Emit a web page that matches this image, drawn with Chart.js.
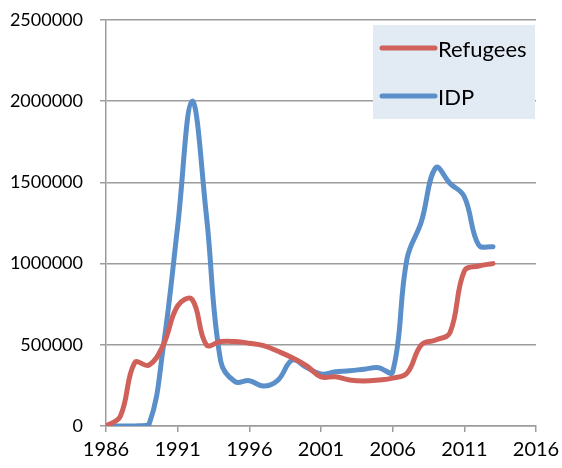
<!DOCTYPE html>
<html>
<head>
<meta charset="utf-8">
<script src="https://cdn.jsdelivr.net/npm/chart.js@4/dist/chart.umd.min.js"></script>
<style>
  html, body { margin: 0; padding: 0; background: #ffffff; }
  #wrap { width: 562px; height: 468px; position: relative; }
</style>
</head>
<body>
<div id="wrap"><canvas id="c" width="562" height="468"></canvas></div>
<script>
// Displaced population, 1986–2013
const years = [1986, 1987, 1988, 1989, 1990, 1991, 1992, 1993, 1994, 1995,
               1996, 1997, 1998, 1999, 2000, 2001, 2002, 2003, 2004, 2005,
               2006, 2007, 2008, 2009, 2010, 2011, 2012, 2013];

const refugees = [0, 60000, 390000, 375000, 500000, 740000, 780000, 500000, 520000, 520000,
                  510000, 495000, 460000, 420000, 370000, 303000, 303000, 283000, 277000, 283000,
                  295000, 325000, 500000, 530000, 575000, 955000, 985000, 1000000];

const idp = [0, 0, 0, 10000, 490000, 1230000, 2000000, 1300000, 400000, 273000,
             279000, 246000, 283000, 406000, 360000, 320000, 334000, 340000, 350000, 359000,
             334000, 1030000, 1258000, 1590000, 1494000, 1412000, 1114000, 1104000];

const seriesNames = ["Refugees", "IDP"];
const seriesColors = ["#d0605a", "#5b8fc9"];

const yTicks = [0, 500000, 1000000, 1500000, 2000000, 2500000];
const xTicks = [1986, 1991, 1996, 2001, 2006, 2011, 2016];

const toPoints = vals => years.map((yr, i) => ({ x: yr, y: vals[i] }));

const FONT = "Lato, 'Open Sans', sans-serif";

// Boxed legend in the upper right of the plot area
const boxLegend = {
  id: "boxLegend",
  afterDraw(chart) {
    const { ctx, chartArea } = chart;
    const w = 162, h = 94;
    const x0 = chartArea.right - w - 1;
    const y0 = chartArea.top + 5;
    ctx.save();
    ctx.fillStyle = "#e2eaf4";
    ctx.fillRect(x0, y0, w, h);
    chart.data.datasets.forEach((ds, i) => {
      const cy = y0 + 23 + i * 48;
      ctx.strokeStyle = ds.borderColor;
      ctx.lineWidth = 5;
      ctx.lineCap = "round";
      ctx.beginPath();
      ctx.moveTo(x0 + 9, cy);
      ctx.lineTo(x0 + 62, cy);
      ctx.stroke();
      ctx.fillStyle = "#000000";
      ctx.font = "22px " + FONT;
      ctx.textBaseline = "middle";
      ctx.textAlign = "left";
      ctx.fillText(ds.label, x0 + 65, cy + 2);
    });
    ctx.restore();
  }
};

new Chart(document.getElementById("c"), {
  type: "line",
  data: {
    datasets: [
      { label: seriesNames[0], data: toPoints(refugees) },
      { label: seriesNames[1], data: toPoints(idp) }
    ].map((d, i) => Object.assign(d, {
      borderColor: seriesColors[i],
      backgroundColor: seriesColors[i],
      borderWidth: 5,
      borderCapStyle: "round",
      borderJoinStyle: "round",
      pointRadius: 0,
      tension: 0.4,
      fill: false
    }))
  },
  options: {
    responsive: false,
    animation: false,
    layout: { padding: { left: 0, right: 26, top: 20, bottom: 0 } },
    plugins: { legend: { display: false }, tooltip: { enabled: false } },
    scales: {
      x: {
        type: "linear",
        min: xTicks[0],
        max: xTicks[xTicks.length - 1],
        afterBuildTicks: s => { s.ticks = xTicks.map(v => ({ value: v })); },
        afterFit: s => { s.height = 42; s.paddingLeft = 0; s.paddingRight = 0; },
        grid: { drawOnChartArea: false, drawTicks: true, tickLength: 6, color: "#9c9c9c", lineWidth: 1.5 },
        border: { color: "#9c9c9c", width: 1.5 },
        ticks: {
          color: "#000000",
          font: { family: FONT, size: 20 },
          padding: 6,
          maxRotation: 0,
          autoSkip: false,
          callback: v => String(v)
        }
      },
      y: {
        min: yTicks[0],
        max: yTicks[yTicks.length - 1],
        afterBuildTicks: s => { s.ticks = yTicks.map(v => ({ value: v })); },
        afterFit: s => { s.width = 106; s.paddingTop = 0; s.paddingBottom = 0; },
        grid: { drawOnChartArea: true, drawTicks: true, tickLength: 6, color: "#9c9c9c", lineWidth: 1.5 },
        border: { color: "#9c9c9c", width: 1.5 },
        ticks: {
          color: "#000000",
          font: { family: FONT, size: 18 },
          padding: 17,
          callback: v => String(v)
        }
      }
    }
  },
  plugins: [boxLegend]
});
</script>
</body>
</html>
